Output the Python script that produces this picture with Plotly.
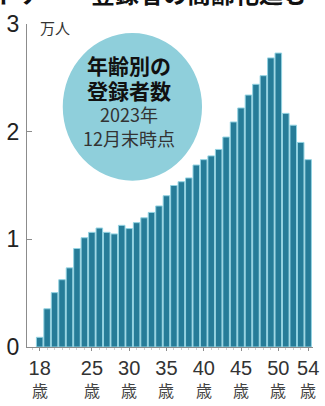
import plotly.graph_objects as go

# Registered donors by age, end of December 2023 (unit: 10,000 people)
ages = list(range(18, 55))
registrants = [
    0.09, 0.355, 0.505, 0.625, 0.735, 0.915, 1.015, 1.065, 1.105, 1.065,
    1.05, 1.13, 1.10, 1.155, 1.20, 1.25, 1.31, 1.405, 1.50, 1.535,
    1.57, 1.69, 1.74, 1.775, 1.835, 1.95, 2.09, 2.22, 2.34, 2.44,
    2.52, 2.685, 2.73, 2.17, 2.06, 1.90, 1.74,
]
age_ticks = [18, 25, 30, 35, 40, 45, 50, 54]
y_ticks = [0, 1, 2, 3]

headline = "ドナー　登録者の高齢化進む"
unit_label = "万人"
badge_lines = ["<b>年齢別の</b>", "<b>登録者数</b>", "2023年", "12月末時点"]

BAR = "#267c98"
EDGE = "#93d3e2"
AXIS = "#8c8c8c"
FONT = "Liberation Sans, Arial, Noto Sans CJK JP, sans-serif"
JP = "Noto Sans CJK JP, sans-serif"

fig = go.Figure()
fig.add_trace(go.Bar(
    x=ages, y=registrants,
    marker=dict(color=BAR, line=dict(color=EDGE, width=1)),
    hoverinfo="skip",
))

# Circular badge behind the caption
fig.add_shape(
    type="circle", xref="paper", yref="paper",
    x0=0.125, x1=0.612, y0=0.515, y1=0.972,
    fillcolor="#8fcfdb", line=dict(width=0), layer="below",
)

badge_y = [0.872, 0.797, 0.72, 0.648]
badge_sizes = [21, 21, 18, 18]
badge_colors = ["#111", "#111", "#333", "#333"]
for txt, yy, sz, col in zip(badge_lines, badge_y, badge_sizes, badge_colors):
    fig.add_annotation(
        text=txt, xref="paper", yref="paper", x=0.357, y=yy,
        showarrow=False, xanchor="center", yanchor="middle",
        font=dict(size=sz, color=col, family=JP),
    )

# Unit label beside the top tick
fig.add_annotation(
    text=unit_label, xref="paper", yref="paper", x=0.038, y=0.99,
    showarrow=False, xanchor="left", yanchor="middle",
    font=dict(size=15, color="#333", family=JP),
)

# "歳" under each age label
for a in age_ticks:
    fig.add_annotation(
        text="歳", xref="x", yref="paper", x=a, y=-0.134,
        showarrow=False, xanchor="center", yanchor="middle",
        font=dict(size=16, color="#444", family=JP),
    )

# Headline running off the top edge
fig.add_annotation(
    text="<b>" + headline + "</b>", xref="paper", yref="paper",
    x=-0.12, y=1.036, xanchor="left", yanchor="bottom",
    showarrow=False, font=dict(size=24, color="#111", family=JP),
)

fig.update_layout(
    width=325, height=406, autosize=False,
    margin=dict(l=26, r=6, t=24, b=59),
    paper_bgcolor="white", plot_bgcolor="white",
    showlegend=False, bargap=0.12,
    xaxis=dict(
        range=[16.3, 54.65], tickmode="array", tickvals=age_ticks,
        ticktext=[str(a) for a in age_ticks],
        showline=True, linecolor=AXIS, linewidth=1.3,
        ticks="outside", ticklen=3, tickcolor=AXIS, showgrid=False,
        zeroline=False, ticklabeloverflow="allow", ticklabelstandoff=0,
        tickfont=dict(size=20, color="#333", family=FONT),
        minor=dict(tickmode="linear", tick0=18, dtick=1, ticks="outside",
                   ticklen=2, tickcolor="#cfcfcf"),
    ),
    yaxis=dict(
        range=[0, 3], tickmode="array", tickvals=y_ticks,
        showline=True, linecolor=AXIS, linewidth=1.3,
        ticks="inside", ticklen=5, tickcolor=AXIS, showgrid=False,
        zeroline=False, ticklabelstandoff=2,
        tickfont=dict(size=23, color="#222", family=FONT),
    ),
)

fig.write_html("out.html")
